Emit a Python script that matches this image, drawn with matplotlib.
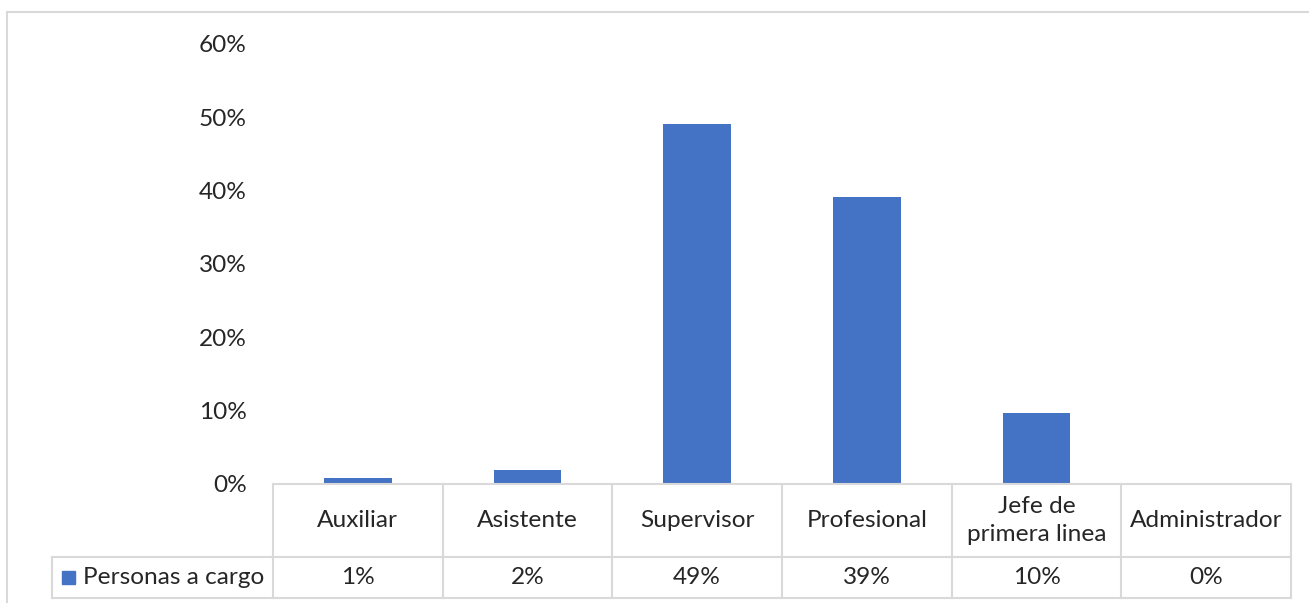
import matplotlib
matplotlib.use("Agg")
import matplotlib.pyplot as plt
from matplotlib.lines import Line2D
from matplotlib.patches import Rectangle
import matplotlib.transforms as mtransforms

categories = ["Auxiliar", "Asistente", "Supervisor", "Profesional", "Jefe de\nprimera linea", "Administrador"]
values = [0.008, 0.019, 0.491, 0.392, 0.097, 0.0]
table_labels = ["1%", "2%", "49%", "39%", "10%", "0%"]
series_name = "Personas a cargo"
yticks = [0, 0.1, 0.2, 0.3, 0.4, 0.5, 0.6]
ytick_labels = ["0%", "10%", "20%", "30%", "40%", "50%", "60%"]

BAR = "#4472C4"
GRID = "#D9D9D9"
TXT = "#262626"
FONT = ["Lato", "DejaVu Sans"]
FS = 17.6

plt.rcParams['font.family'] = FONT

W, H = 1309, 603
fig = plt.figure(figsize=(W / 100, H / 100), dpi=100)
fig.patch.set_facecolor("white")

x0, x1 = 273, 1291
ytop, ybase = 44, 484
ax = fig.add_axes([x0 / W, 1 - ybase / H, (x1 - x0) / W, (ybase - ytop) / H])

xs = list(range(len(categories)))
ax.bar(xs, values, width=0.4, color=BAR, zorder=2)
ax.set_xlim(-0.5, len(categories) - 0.5)
ax.set_ylim(0, 0.6)
ax.set_yticks(yticks)
ax.set_yticklabels(ytick_labels, fontsize=FS, color=TXT)
ax.tick_params(axis="y", length=0, pad=19)
ax.set_xticks([])
for s in ["top", "right", "left"]:
    ax.spines[s].set_visible(False)
ax.spines["bottom"].set_color(GRID)
ax.spines["bottom"].set_linewidth(1.5)

# Data table below axes (x in data units, y in axes fraction)
trans = mtransforms.blended_transform_factory(ax.transData, ax.transAxes)
axh = ybase - ytop
y_hdr_bot = -(557 - ybase) / axh
y_tbl_bot = -(598 - ybase) / axh
px_per_unit = (x1 - x0) / len(categories)
x_left = -0.5 - (x0 - 52) / px_per_unit

def line(xa, ya, xb, yb):
    ax.add_line(Line2D([xa, xb], [ya, yb], transform=trans, color=GRID,
                       lw=1.5, clip_on=False, zorder=3))

n = len(categories)
for i in range(n + 1):
    line(i - 0.5, 0, i - 0.5, y_tbl_bot)
line(x_left, y_hdr_bot, n - 0.5, y_hdr_bot)
line(x_left, y_tbl_bot, n - 0.5, y_tbl_bot)
line(x_left, y_hdr_bot, x_left, y_tbl_bot)

y_hdr_mid = y_hdr_bot / 2
y_val_mid = (y_hdr_bot + y_tbl_bot) / 2
for i, (c, t) in enumerate(zip(categories, table_labels)):
    ax.text(i, y_hdr_mid, c, transform=trans, ha="center", va="center",
            fontsize=FS, color=TXT, linespacing=1.4, clip_on=False)
    ax.text(i, y_val_mid, t, transform=trans, ha="center", va="center",
            fontsize=FS, color=TXT, clip_on=False)

# legend key + series name
key_w = 13 / px_per_unit
key_x = x_left + 10 / px_per_unit
key_h = 13 / axh
ax.add_patch(Rectangle((key_x, y_val_mid - key_h / 2), key_w, key_h,
                       transform=trans, color=BAR, clip_on=False))
ax.text(x_left + 31 / px_per_unit, y_val_mid, series_name, transform=trans,
        ha="left", va="center", fontsize=FS, color=TXT, clip_on=False)

# chart frame
fig.add_artist(Line2D([7 / W, 1.01], [1 - 12 / H, 1 - 12 / H],
                      transform=fig.transFigure, color=GRID, lw=1.5))
fig.add_artist(Line2D([7 / W, 7 / W], [1 - 12 / H, -0.01],
                      transform=fig.transFigure, color=GRID, lw=1.5))

fig.savefig("out.png", dpi=100, facecolor="white")
